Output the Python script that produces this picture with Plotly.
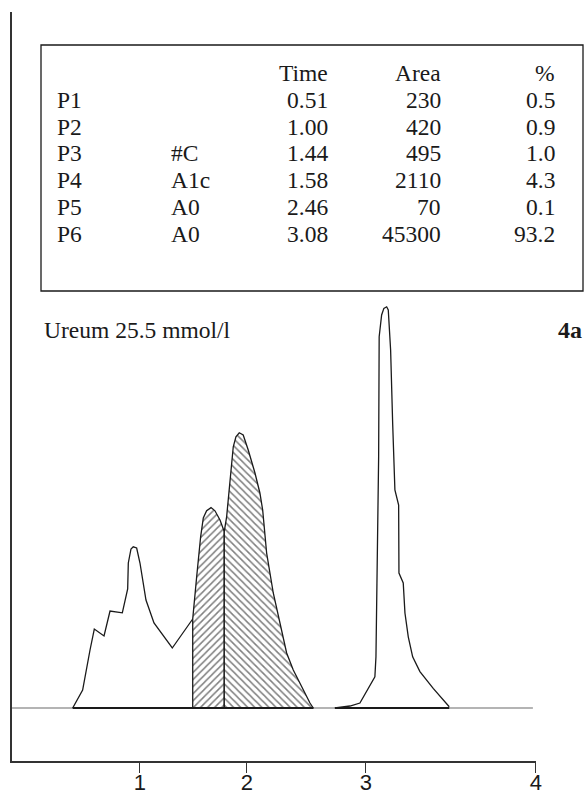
import plotly.graph_objects as go

# ---------------- data ----------------
p12_t = [0.371, 0.464, 0.533, 0.573, 0.664, 0.720, 0.835, 0.885, 0.891, 0.916, 0.937,
         0.969, 1.000, 1.056, 1.131, 1.302, 1.493]
p12_s = [0.0, 4.5, 14.5, 19.75, 18.0, 24.25, 23.8, 29.75, 36.25, 39.75, 40.3,
         40.0, 36.25, 27.0, 21.25, 15.0, 22.25]

p3_t = [1.493, 1.530, 1.567, 1.592, 1.623, 1.664, 1.701, 1.748, 1.788]
p3_s = [22.25, 32.8, 42.8, 47.5, 49.3, 50.1, 49.3, 47.0, 44.1]

p4_t = [1.788, 1.810, 1.841, 1.872, 1.897, 1.928, 1.965, 2.012, 2.075, 2.121, 2.147,
        2.184, 2.246, 2.308, 2.371, 2.433, 2.511, 2.589, 2.620]
p4_s = [44.1, 47.8, 57.0, 65.3, 67.8, 68.8, 68.25, 64.5, 58.75, 53.75, 49.5,
        38.75, 28.75, 21.25, 13.75, 9.5, 5.3, 1.25, 0.0]

p6_t = [2.822, 2.963, 3.056, 3.119, 3.196, 3.206, 3.218, 3.231, 3.236, 3.259, 3.280,
        3.306, 3.321, 3.343, 3.362, 3.383, 3.418, 3.421, 3.461, 3.477, 3.508, 3.549,
        3.617, 3.741, 3.891]
p6_s = [0.0, 0.5, 1.25, 4.1, 7.8, 12.8, 33.75, 62.8, 92.8, 98.25, 99.9,
        100.3, 99.5, 89.5, 71.25, 54.5, 50.75, 33.75, 31.25, 23.75, 17.8, 12.8,
        9.1, 4.9, 0.3]

baseline_start, baseline_end = -0.196, 4.673

tick_vals = [1.0, 2.0, 3.112, 4.700]
tick_text = ["1", "2", "3", "4"]

peaks = ["P1", "P2", "P3", "P4", "P5", "P6"]
names = ["", "", "#C", "A1c", "A0", "A0"]
times = ["0.51", "1.00", "1.44", "1.58", "2.46", "3.08"]
areas = ["230", "420", "495", "2110", "70", "45300"]
pcts = ["0.5", "0.9", "1.0", "4.3", "0.1", "93.2"]
headers = ["Time", "Area", "%"]

sample_label = "Ureum 25.5 mmol/l"
panel_label = "4a"

# ---------------- layout helpers ----------------
W, H = 588, 801
ML, MR, MT, MB = 12, 52, 12, 40


def px(xp):
    return (xp - ML) / (W - ML - MR)


def py(yp):
    return (H - MB - yp) / (H - MT - MB)


SERIF = "Liberation Serif"
SANS = "Liberation Sans"
INK = "#1a1a1a"
FS = 23.5

fig = go.Figure()

fig.add_trace(go.Scatter(x=[baseline_start, baseline_end], y=[0, 0], mode="lines",
                         line=dict(color="#6a6a6a", width=1.2), hoverinfo="skip"))
fig.add_trace(go.Scatter(x=p12_t, y=p12_s, mode="lines",
                         line=dict(color=INK, width=1.3)))
fig.add_trace(go.Scatter(x=[p3_t[0]] + p3_t + [p3_t[-1], p3_t[0]],
                         y=[0] + p3_s + [0, 0], mode="lines", fill="toself",
                         fillcolor="white",
                         fillpattern=dict(shape="/", size=5, solidity=0.3,
                                          fgcolor="black", bgcolor="white"),
                         line=dict(color=INK, width=1.3)))
fig.add_trace(go.Scatter(x=[p4_t[0]] + p4_t + [p4_t[0]],
                         y=[0] + p4_s + [0], mode="lines", fill="toself",
                         fillcolor="white",
                         fillpattern=dict(shape="\\", size=5, solidity=0.3,
                                          fgcolor="black", bgcolor="white"),
                         line=dict(color=INK, width=1.3)))
fig.add_trace(go.Scatter(x=p6_t, y=p6_s, mode="lines",
                         line=dict(color=INK, width=1.3)))
fig.add_trace(go.Scatter(x=[p12_t[0], p4_t[-1]], y=[0, 0], mode="lines",
                         line=dict(color=INK, width=2.2)))
fig.add_trace(go.Scatter(x=[p6_t[0], p6_t[-1]], y=[0, 0], mode="lines",
                         line=dict(color=INK, width=2.2)))

# ---------------- table ----------------
ann = []
row0 = 73
dy = 26.8
col_name_left = 55
col_lbl_left = 169
col_right = [330, 443, 557]
for j, h in enumerate(headers):
    ann.append(dict(x=px(col_right[j]), y=py(row0), text=h, xanchor="right",
                    yanchor="middle"))
for i in range(len(peaks)):
    yy = py(row0 + dy * (i + 1))
    ann.append(dict(x=px(col_name_left), y=yy, text=peaks[i], xanchor="left",
                    yanchor="middle"))
    if names[i]:
        ann.append(dict(x=px(col_lbl_left), y=yy, text=names[i], xanchor="left",
                        yanchor="middle"))
    for j, v in enumerate([times[i], areas[i], pcts[i]]):
        ann.append(dict(x=px(col_right[j]), y=yy, text=v, xanchor="right",
                        yanchor="middle"))

ann.append(dict(x=px(42), y=py(330), text=sample_label, xanchor="left",
                yanchor="middle"))
for a in ann:
    a.update(xref="paper", yref="paper", showarrow=False,
             font=dict(family=SERIF, size=FS, color=INK))

ann.append(dict(x=px(584), y=py(330), xref="paper", yref="paper",
                text="<b>" + panel_label + "</b>", xanchor="right", yanchor="middle",
                showarrow=False, font=dict(family=SERIF, size=24, color=INK)))

fig.update_layout(
    width=W, height=H,
    margin=dict(l=ML, r=MR, t=MT, b=MB, pad=0, autoexpand=False),
    paper_bgcolor="white", plot_bgcolor="white",
    showlegend=False,
    annotations=ann,
    shapes=[dict(type="rect", xref="paper", yref="paper",
                 x0=px(41), x1=px(583), y0=py(291), y1=py(45),
                 line=dict(color=INK, width=1.3), fillcolor="rgba(0,0,0,0)")],
    xaxis=dict(range=[-0.1963, 4.702], showgrid=False, zeroline=False,
               automargin=False,
               showline=True, linecolor="#333333", linewidth=1.5,
               ticks="outside", ticklen=10, tickwidth=1.2, tickcolor="#333333",
               tickvals=tick_vals, ticktext=tick_text, ticklabelstandoff=-9,
               tickfont=dict(family=SANS, size=22, color=INK)),
    yaxis=dict(range=[-13.25, 174], showgrid=False, zeroline=False,
               automargin=False,
               showline=True, linecolor="#333333", linewidth=1.5,
               showticklabels=False, ticks=""),
)

fig.write_html("out.html")
